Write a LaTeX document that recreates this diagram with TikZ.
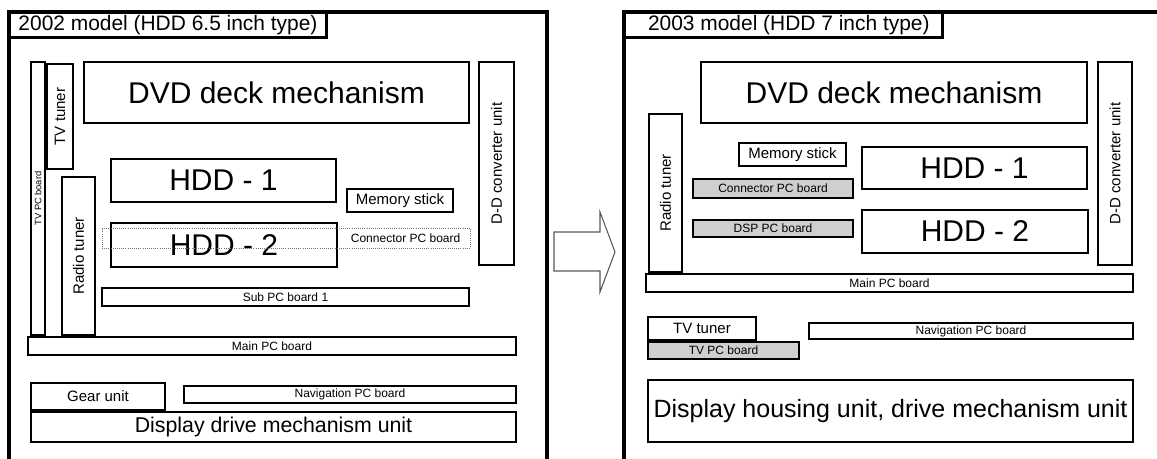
\documentclass[tikz,border=0pt]{standalone}
\usepackage{fontspec}
\setmainfont{Liberation Sans}
\tikzset{
  box/.style={draw=black, line width=1.4pt, fill=white, inner sep=0pt, align=center},
  graybox/.style={box, fill=black!19},
  frame/.style={draw=black, line width=2.6pt},
  fbig/.style={font=\fontsize{22.5}{24}\selectfont},
  ftitle/.style={font=\fontsize{15.7}{18}\selectfont},
  fdisp/.style={font=\fontsize{16}{18}\selectfont},
  fdispb/.style={font=\fontsize{18.75}{20}\selectfont},
  fmid/.style={font=\fontsize{11.25}{13}\selectfont},
  fsmall/.style={font=\fontsize{9}{10}\selectfont},
  ftiny/.style={font=\fontsize{7}{8}\selectfont},
  arrowshape/.style={draw=black!65, line width=0.8pt, fill=white}
}
\newcommand\bx[7][]{%
  \pgfmathsetmacro\mybw{(#5-#3-1.5)*0.75}\pgfmathsetmacro\mybh{(#6-#4-1.5)*0.75}%
  \node[box,minimum width=\mybw pt,minimum height=\mybh pt,#1] (#2) at ({(#3+#5)/2},{(#4+#6)/2}) {#7};}
\newcommand\bxr[7][]{%
  \pgfmathsetmacro\mybw{(#5-#3-1.5)*0.75}\pgfmathsetmacro\mybh{(#6-#4-1.5)*0.75}%
  \node[box,minimum width=\mybh pt,minimum height=\mybw pt,rotate=90,#1] (#2) at ({(#3+#5)/2},{(#4+#6)/2}) {#7};}
\begin{document}
\begin{tikzpicture}[x=0.75pt,y=-0.75pt]
\useasboundingbox (0,0) rectangle (1157,459);
% ---------- left panel ----------
\draw[frame] (9,462) -- (9,12) -- (547,12) -- (547,462);
\bx[frame,ftitle]{t1}{9}{12}{327}{38}{2002 model (HDD 6.5 inch type)}
\bxr[ftiny]{tvpc}{30}{61}{46}{336}{TV PC board}
\bxr[fmid]{tvtun}{46}{63}{74}{170}{TV tuner}
\bx[fbig]{dvd}{83}{61}{470}{124}{DVD deck mechanism}
\bxr[fmid]{dd}{478}{61}{515}{266}{D-D converter unit}
\bxr[fmid]{radio}{61}{176}{96}{336}{Radio tuner}
\bx[fbig]{hdda}{110}{158}{337}{203}{HDD - 1}
\bx[fmid]{mem}{346}{188}{454}{213}{Memory stick}
\bx[fbig]{hddb}{110}{222}{338}{268}{HDD - 2}
\node[draw=black!55, densely dotted, line width=0.6pt, inner sep=0pt,
      minimum width=276pt, minimum height=15pt] (conn) at (286,238) {};
\node[fsmall, anchor=east] (connt) at (465,238) {Connector PC board};
\bx[fsmall]{sub}{101}{287}{470}{307}{Sub PC board 1}
\bx[fsmall]{main}{27}{336}{517}{356}{Main PC board}
\bx[fmid]{gear}{30}{382}{166}{411}{\raisebox{-2pt}{Gear unit}}
\bx[fsmall]{nav}{183}{385}{517}{404}{Navigation PC board}
\bx[fdisp]{disp}{30}{411}{517}{443}{Display drive mechanism unit}
% ---------- arrow ----------
\draw[arrowshape] (554,232) -- (600,232) -- (600,212) -- (615,252) -- (600,292) -- (600,271) -- (554,271) -- cycle;
% ---------- right panel ----------
\draw[frame] (624,462) -- (624,12) -- (1160,12);
\bx[frame,ftitle]{t2}{624}{12}{943}{38}{\hspace*{8pt}2003 model (HDD 7 inch type)}
\bx[fbig]{dvdb}{700}{61}{1088}{124}{DVD deck mechanism}
\bxr[fmid]{ddb}{1097}{61}{1133}{266}{D-D converter unit}
\bxr[fmid]{radiob}{648}{113}{683}{273}{Radio tuner}
\bx[fmid]{memb}{738}{142}{847}{167}{Memory stick}
\bx[graybox,fsmall]{connb}{692}{178}{854}{199}{Connector PC board}
\bx[fbig]{hddc}{861}{146}{1088}{190}{HDD - 1}
\bx[graybox,fsmall]{dsp}{692}{219}{854}{238}{DSP PC board}
\bx[fbig]{hddd}{861}{209}{1089}{254}{HDD - 2}
\bx[fsmall]{mainb}{645}{273}{1134}{293}{Main PC board}
\bx[fmid]{tvtunb}{647}{316}{757}{341}{TV tuner}
\bx[graybox,fsmall]{tvpcb}{647}{341}{800}{360}{TV PC board}
\bx[fsmall]{navb}{808}{322}{1134}{340}{Navigation PC board}
\bx[fdispb]{dispb}{647}{379}{1134}{443}{Display housing unit, drive mechanism unit}
\end{tikzpicture}
\end{document}
